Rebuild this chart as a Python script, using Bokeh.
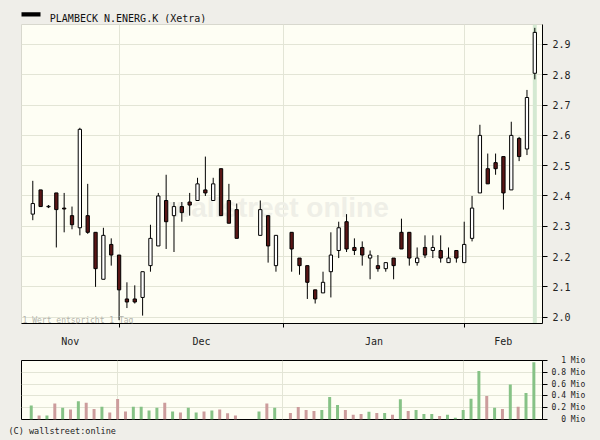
import pandas as pd
from jinja2 import Template
from bokeh.plotting import figure
from bokeh.layouts import column
from bokeh.models import (ColumnDataSource, FixedTicker, Range1d, Label, Span, Title,
                          PrintfTickFormatter)
from bokeh.core.properties import value
from bokeh.embed import file_html
from bokeh.resources import INLINE

# ---------------- data ----------------
title_text = "PLAMBECK N.ENERG.K (Xetra)"
first_day = "2007-11-16"
last_day = "2008-02-14"
closed_days = ["2007-12-25", "2007-12-26", "2008-01-01"]

opens = [2.34, 2.42, 2.364, 2.41, 2.36, 2.335, 2.295, 2.335, 2.28, 2.125, 2.24, 2.205, 2.06, 2.06,
         2.065, 2.17, 2.235, 2.385, 2.335, 2.365, 2.38, 2.385, 2.42, 2.385, 2.49, 2.385, 2.355,
         2.27, 2.335, 2.17,
         2.28, 2.195, 2.17, 2.09, 2.08, 2.15, 2.22, 2.315, 2.23, 2.23, 2.195, 2.17, 2.16, 2.195,
         2.28, 2.28, 2.18, 2.23, 2.22, 2.22, 2.18, 2.22, 2.18, 2.26, 2.41, 2.49, 2.51, 2.53, 2.42,
         2.59, 2.555, 2.805]
highs = [2.45, 2.42, 2.37, 2.41, 2.41, 2.365, 2.625, 2.44, 2.28, 2.295, 2.26, 2.205, 2.115, 2.105,
         2.15, 2.305, 2.41, 2.47, 2.38, 2.38, 2.41, 2.46, 2.53, 2.46, 2.49, 2.44, 2.375,
         2.385, 2.335, 2.27,
         2.28, 2.195, 2.17, 2.09, 2.15, 2.28, 2.315, 2.34, 2.26, 2.25, 2.22, 2.205, 2.18, 2.195,
         2.325, 2.28, 2.23, 2.27, 2.27, 2.27, 2.23, 2.22, 2.315, 2.40, 2.635, 2.54, 2.54, 2.53,
         2.645, 2.595, 2.75, 2.955]
lows = [2.32, 2.365, 2.36, 2.23, 2.28, 2.29, 2.27, 2.275, 2.10, 2.125, 2.17, 1.99, 2.03, 2.045,
        2.005, 2.15, 2.235, 2.225, 2.215, 2.315, 2.335, 2.385, 2.40, 2.385, 2.335, 2.31, 2.26,
        2.27, 2.18, 2.15,
        2.15, 2.14, 2.06, 2.045, 2.08, 2.065, 2.195, 2.215, 2.205, 2.17, 2.125, 2.15, 2.15, 2.125,
        2.225, 2.17, 2.17, 2.195, 2.195, 2.18, 2.18, 2.18, 2.18, 2.25, 2.41, 2.44, 2.47, 2.355,
        2.42, 2.515, 2.535, 2.785]
closes = [2.375, 2.365, 2.366, 2.355, 2.357, 2.305, 2.62, 2.28, 2.16, 2.27, 2.205, 2.09, 2.05, 2.05,
          2.15, 2.26, 2.40, 2.315, 2.365, 2.345, 2.37, 2.44, 2.41, 2.44, 2.335, 2.31, 2.26,
          2.355, 2.235, 2.27,
          2.225, 2.17, 2.115, 2.06, 2.115, 2.205, 2.295, 2.225, 2.22, 2.205, 2.205, 2.16, 2.18, 2.17,
          2.225, 2.195, 2.195, 2.205, 2.23, 2.195, 2.195, 2.195, 2.24, 2.36, 2.60, 2.44, 2.49, 2.41,
          2.60, 2.53, 2.725, 2.94]
volumes_mio = [0.236, 0.066, 0.066, 0.27, 0.20, 0.17, 0.31, 0.285, 0.18, 0.214, 0.12, 0.346, 0.137,
               0.214, 0.214, 0.153, 0.198, 0.285, 0.137, 0.12, 0.198, 0.12, 0.137, 0.153, 0.17,
               0.104, 0.066,
               0.137, 0.27, 0.198,
               0.11, 0.21, 0.16, 0.145, 0.16, 0.38, 0.245, 0.16, 0.08, 0.095, 0.13, 0.11, 0.11, 0.08,
               0.345, 0.145, 0.16, 0.095, 0.095, 0.06, 0.08, 0.03, 0.16, 0.35, 0.82, 0.40, 0.20,
               0.18, 0.595, 0.215, 0.45, 0.97]

price_ticks = [2.0, 2.1, 2.2, 2.3, 2.4, 2.5, 2.6, 2.7, 2.8, 2.9]
volume_ticks = [0.0, 0.2, 0.4, 0.6, 0.8, 1.0]
volume_tick_labels = ["0 Mio", "0.2 Mio", "0.4 Mio", "0.6 Mio", "0.8 Mio", "1 Mio"]
note_text = "1 Wert entspricht 1 Tag"
watermark_text = "wallstreet online"
copyright_text = "(C) wallstreet:online"

# ---------------- derived positions (trading-day slots) ----------------
weekdays = pd.bdate_range(first_day, last_day)
trading = weekdays[~weekdays.isin(pd.to_datetime(closed_days))]
slot_of = {d: i for i, d in enumerate(weekdays)}
xs = [slot_of[d] for d in trading]

boundaries = [i for i in range(1, len(weekdays)) if weekdays[i].month != weekdays[i - 1].month]
month_names = [weekdays[0].strftime("%b")] + [weekdays[i].strftime("%b") for i in boundaries]

X0, X1 = -1.44, 64.98
edges = [X0] + boundaries + [X1]
centers = [round((edges[i] + edges[i + 1]) / 2, 3) for i in range(len(month_names))]

BG = "#efeee9"
PLOT_BG = "#fefef4"
GRID = "#e3e5d6"
MONO = "DejaVu Sans Mono"
W = 600
LEFT, RIGHT = 21, 58          # shared frame borders (frames are aligned in the column)

src = ColumnDataSource(dict(
    x=xs, open=opens, high=highs, low=lows, close=closes,
    top=[max(o, c) for o, c in zip(opens, closes)],
    bottom=[min(o, c) for o, c in zip(opens, closes)],
    fill=["white" if c >= o else "#5a1616" for o, c in zip(opens, closes)],
))

# ---------------- header (legend key + series name) ----------------
head = figure(width=W, height=23, output_backend="svg", toolbar_location=None, tools="",
              x_range=Range1d(LEFT, W - RIGHT), y_range=Range1d(0, 23),
              x_axis_location=None, y_axis_location=None,
              min_border_left=LEFT, min_border_right=RIGHT, min_border_top=0, min_border_bottom=0,
              background_fill_color=BG, border_fill_color=BG, outline_line_color=None)
head.xgrid.visible = False
head.ygrid.visible = False
head.quad(left=[20], right=[40], bottom=[7], top=[11.3], fill_color="black", line_color=None)
head.text(x=[49.3], y=[5], text=[title_text], text_font=value(MONO), text_font_size="10px",
          text_color="#111111", text_baseline="alphabetic", text_align="left")

# ---------------- price chart ----------------
p = figure(width=W, height=326, output_backend="svg", toolbar_location=None, tools="",
           x_range=Range1d(X0, X1), y_range=Range1d(1.979, 2.966),
           y_axis_location="right",
           min_border_left=LEFT, min_border_right=RIGHT, min_border_top=1, min_border_bottom=0,
           background_fill_color=PLOT_BG, border_fill_color=BG,
           outline_line_color="#d8d8ce")

p.ygrid.grid_line_color = GRID
p.xgrid.ticker = FixedTicker(ticks=boundaries)
p.xgrid.grid_line_color = GRID

xa = p.xaxis[0]
xa.ticker = FixedTicker(ticks=centers, minor_ticks=boundaries)
xa.major_label_overrides = {c: m for c, m in zip(centers, month_names)}
xa.major_tick_in = 0
xa.major_tick_out = 0
xa.minor_tick_in = 0
xa.minor_tick_out = 4
xa.minor_tick_line_color = "black"
xa.axis_line_color = "black"
xa.major_label_standoff = 8
xa.major_label_text_font = MONO
xa.major_label_text_font_size = "10px"
xa.major_label_text_color = "#222222"

ya = p.yaxis[0]
ya.ticker = FixedTicker(ticks=price_ticks)
ya.formatter = PrintfTickFormatter(format="%.1f")
ya.major_tick_in = 0
ya.major_tick_out = 5
ya.major_tick_line_color = "black"
ya.axis_line_color = "black"
ya.major_label_standoff = 5
ya.major_label_text_font = MONO
ya.major_label_text_font_size = "10px"
ya.major_label_text_color = "#222222"

wm = Label(x=31.4, y=2.361, text=watermark_text, text_font="Liberation Sans",
           text_font_style="bold", text_font_size="28px", text_color="#efefe7",
           text_align="center", text_baseline="alphabetic", level="underlay")
p.add_layout(wm)

today = Span(location=xs[-1], dimension="height", line_color="#d4e9d2", line_width=4,
             level="underlay")
p.add_layout(today)

p.segment(x0="x", y0="low", x1="x", y1="high", source=src, line_color="black", line_width=1)
p.vbar(x="x", width=0.42, top="top", bottom="bottom", fill_color="fill",
       line_color="black", line_width=1, source=src)

note = Label(x=-1.3, y=1.9905, text=note_text, text_font=MONO, text_font_size="8px",
             text_color="#b4b4ac", text_baseline="alphabetic")
p.add_layout(note)

# ---------------- volume chart ----------------
vol_up = [True] + [closes[i] >= closes[i - 1] for i in range(1, len(closes))]
vsrc = ColumnDataSource(dict(
    x=xs, vol=volumes_mio,
    color=["#86c286" if u else "#cc9c9c" for u in vol_up],
))

v = figure(width=W, height=90, output_backend="svg", toolbar_location=None, tools="",
           x_range=Range1d(-1.24, 65.1), y_range=Range1d(0, 1.0),
           x_axis_location=None, y_axis_location="right",
           min_border_left=LEFT, min_border_right=RIGHT, min_border_top=11, min_border_bottom=19,
           background_fill_color=PLOT_BG, border_fill_color=BG,
           outline_line_color="black", outline_line_width=1)
v.ygrid.grid_line_color = GRID
v.xgrid.ticker = FixedTicker(ticks=boundaries)
v.xgrid.grid_line_color = GRID

va = v.yaxis[0]
va.ticker = FixedTicker(ticks=volume_ticks)
va.major_label_overrides = {t: lab.rjust(7, "\u00a0") for t, lab in zip(volume_ticks, volume_tick_labels)}
va.major_tick_in = 0
va.major_tick_out = 5
va.major_tick_line_color = "black"
va.axis_line_color = "black"
va.major_label_standoff = 4
va.major_label_text_font = MONO
va.major_label_text_font_size = "8px"
va.major_label_text_color = "#222222"

v.vbar(x="x", width=0.38, top="vol", bottom=0, fill_color="color", line_color=None, source=vsrc)

footer = Title(text=copyright_text, align="left", offset=-13, standoff=8,
               text_font=MONO, text_font_size="8.5px", text_font_style="normal",
               text_color="#222222")
v.add_layout(footer, "below")

layout = column(head, p, v, spacing=0)

tmpl = Template("""{% extends base %}
{% block postamble %}<style>body { background-color: #efeee9; }</style>{% endblock %}""")

open("out.html", "w").write(file_html(layout, INLINE, "PLAMBECK N.ENERG.K", template=tmpl))
